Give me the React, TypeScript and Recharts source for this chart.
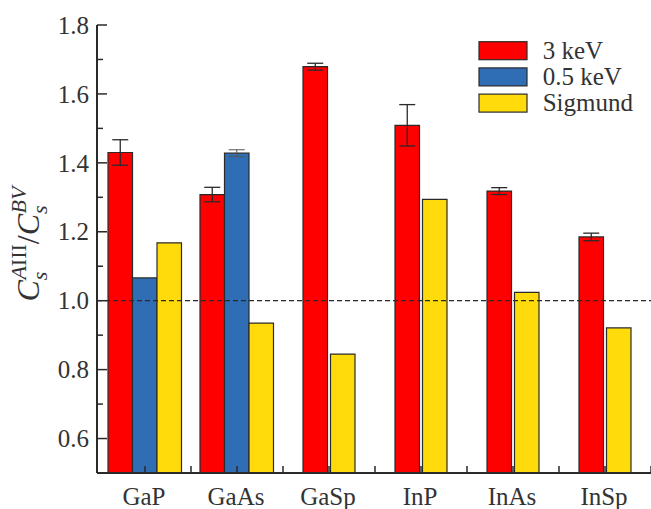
import {
  Bar,
  BarChart,
  ErrorBar,
  Legend,
  ReferenceLine,
  XAxis,
  YAxis,
} from "recharts";

const FONT = "Liberation Serif, Times New Roman, Times, serif";

// Compounds along the x axis.
const categories = ["GaP", "GaAs", "GaSp", "InP", "InAs", "InSp"];

// Bar heights.
const kev3 = [1.43, 1.308, 1.679, 1.509, 1.318, 1.185];
const kev3Err = [0.037, 0.021, 0.01, 0.06, 0.01, 0.011];
const kev05: (number | null)[] = [1.066, 1.428, null, null, null, null];
const kev05Err = [0, 0.01, 0, 0, 0, 0];
const sigmund = [1.168, 0.935, 0.845, 1.294, 1.024, 0.921];

const yTicks = [0.5, 0.6, 0.7, 0.8, 0.9, 1.0, 1.1, 1.2, 1.3, 1.4, 1.5, 1.6, 1.7, 1.8];

const seriesNames = ["3 keV", "0.5 keV", "Sigmund"];
const COLORS = ["#ff0000", "#2f6db5", "#ffdb0c"];
const EDGE = "#2a2a2a";

// Groups that have a 0.5 keV value get three bars; the others get two
// centred bars, so they live on a second (hidden) category axis.
const data = categories.map((name, i) => {
  const three = kev05[i] != null;
  return {
    name,
    r3: three ? kev3[i] : null,
    b3: kev05[i],
    y3: three ? sigmund[i] : null,
    r2: three ? null : kev3[i],
    y2: three ? null : sigmund[i],
    rErr: kev3Err[i],
    bErr: kev05Err[i],
  };
});

function YTick(props: any) {
  const { x, y, payload } = props;
  const v = payload.value as number;
  const tenth = Math.round(v * 10);
  const major = tenth % 2 === 0;
  const labelled = major && tenth >= 6;
  return (
    <g>
      <line x1={x} x2={x + (major ? 10 : 6)} y1={y} y2={y} stroke={EDGE} strokeWidth={1.5} />
      {labelled && (
        <text x={x - 8} y={y + 8.7} textAnchor="end" style={{ fontFamily: FONT }} fontSize={25} fill="#333">
          {v.toFixed(1)}
        </text>
      )}
    </g>
  );
}

function XTick(props: any) {
  const { x, y, payload, width, visibleTicksCount } = props;
  const band = (width - 2) / visibleTicksCount;
  return (
    <g>
      <line x1={x} x2={x} y1={y} y2={y - 7} stroke={EDGE} strokeWidth={1.5} />
      <line x1={x + band / 2} x2={x + band / 2} y1={y} y2={y - 7} stroke={EDGE} strokeWidth={1.5} />
      <text x={x - 1} y={y + 32} textAnchor="middle" style={{ fontFamily: FONT }} fontSize={25} fill="#333">
        {payload.value}
      </text>
    </g>
  );
}

function YLabel() {
  return (
    <text
      transform="rotate(-90)"
      x={-244}
      y={39}
      textAnchor="middle"
      style={{ fontFamily: FONT }}
      fontSize={32}
      fill="#333"
    >
      <tspan fontStyle="italic">C</tspan>
      <tspan fontSize={22} fontStyle="italic" dy={8}>s</tspan>
      <tspan fontSize={22} dx={-8} dy={-21}>
        <tspan fontStyle="italic">A</tspan>III
      </tspan>
      <tspan dy={13}>/</tspan>
      <tspan fontStyle="italic">C</tspan>
      <tspan fontSize={22} fontStyle="italic" dy={8}>s</tspan>
      <tspan fontSize={22} fontStyle="italic" dx={-8} dy={-21}>BV</tspan>
    </text>
  );
}

function LegendBox() {
  return (
    <svg width={180} height={90}>
      {seriesNames.map((n, i) => (
        <g key={n}>
          <rect x={9} y={11.7 + i * 26.2} width={48} height={18} fill={COLORS[i]} stroke={EDGE} strokeWidth={1.2} />
          <text x={72.7} y={11.7 + i * 26.2 + 17} style={{ fontFamily: FONT }} fontSize={25} fill="#333">
            {n}
          </text>
        </g>
      ))}
    </svg>
  );
}

export default function App() {
  return (
    <div style={{ position: "absolute", left: 0, top: 0, width: 651, height: 509, fontFamily: FONT }}>
      <BarChart
        width={651}
        height={509}
        data={data}
        margin={{ top: 25, right: 0, bottom: 0, left: 0 }}
        barGap={0}
        barCategoryGap={0}
      >
        <XAxis
          xAxisId="a"
          dataKey="name"
          height={36}
          padding={{ left: 2, right: 0 }}
          axisLine={{ stroke: EDGE, strokeWidth: 2 }}
          tickLine={false}
          tickSize={0}
          tickMargin={0}
          tick={<XTick />}
          interval={0}
        />
        <XAxis xAxisId="b" dataKey="name" padding={{ left: 2, right: 0 }} hide />
        <YAxis
          width={97}
          type="number"
          domain={[0.5, 1.8]}
          allowDataOverflow
          ticks={yTicks}
          interval={0}
          axisLine={{ stroke: EDGE, strokeWidth: 2 }}
          tickLine={false}
          tickSize={0}
          tickMargin={0}
          tick={<YTick />}
          label={<YLabel />}
        />
        <Legend
          layout="vertical"
          align="center"
          verticalAlign="middle"
          content={<LegendBox />}
          wrapperStyle={{ position: "absolute", left: 470, top: 30, width: 180, height: 90 }}
        />
        <Bar xAxisId="a" dataKey="r3" barSize={24.5} fill={COLORS[0]} stroke={EDGE} strokeWidth={1.2} isAnimationActive={false}>
          <ErrorBar dataKey="rErr" width={8} stroke={EDGE} strokeWidth={1.3} direction="y" />
        </Bar>
        <Bar xAxisId="a" dataKey="b3" barSize={24.5} fill={COLORS[1]} stroke={EDGE} strokeWidth={1.2} isAnimationActive={false}>
          <ErrorBar dataKey="bErr" width={8} stroke="#555" strokeWidth={1} direction="y" />
        </Bar>
        <Bar xAxisId="a" dataKey="y3" barSize={24.5} fill={COLORS[2]} stroke={EDGE} strokeWidth={1.2} isAnimationActive={false} />
        <Bar xAxisId="b" dataKey="r2" barSize={24.5} fill={COLORS[0]} stroke={EDGE} strokeWidth={1.2} isAnimationActive={false}>
          <ErrorBar dataKey="rErr" width={8} stroke={EDGE} strokeWidth={1.3} direction="y" />
        </Bar>
        <Bar xAxisId="b" dataKey="gap" barSize={3} fill="none" isAnimationActive={false} />
        <Bar xAxisId="b" dataKey="y2" barSize={24.5} fill={COLORS[2]} stroke={EDGE} strokeWidth={1.2} isAnimationActive={false} />
        <ReferenceLine xAxisId="a" y={1} stroke={EDGE} strokeWidth={1.3} strokeDasharray="5 3" />
      </BarChart>
    </div>
  );
}
